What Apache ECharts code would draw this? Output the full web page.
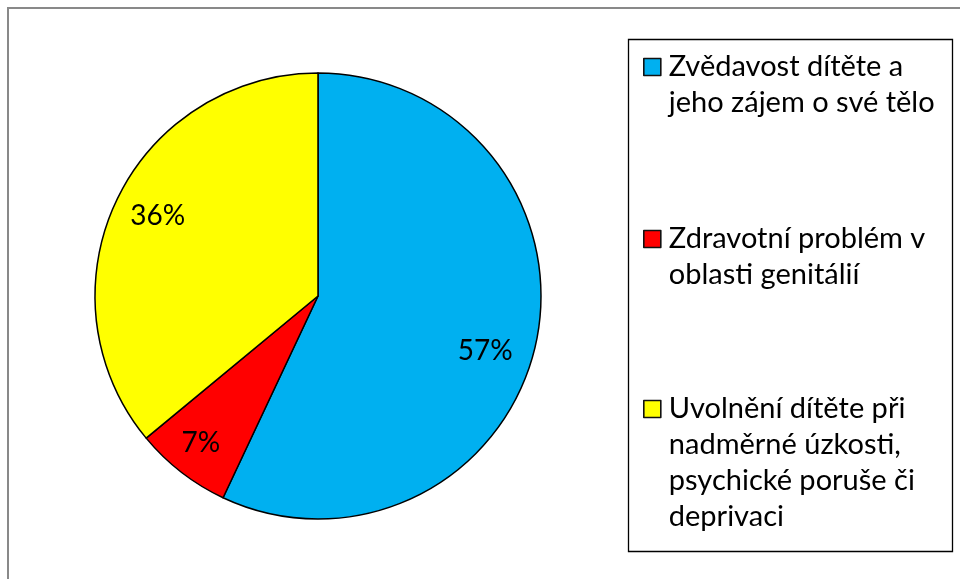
<!DOCTYPE html>
<html><head><meta charset="utf-8">
<script src="https://cdn.jsdelivr.net/npm/echarts@6/dist/echarts.min.js"></script>
<style>html,body{margin:0;padding:0;background:#fff}#c{width:960px;height:579px}</style>
</head><body><div id="c"></div>
<script>
const categories = ['Zvědavost dítěte a jeho zájem o své tělo', 'Zdravotní problém v oblasti genitálií', 'Uvolnění dítěte při nadměrné úzkosti, psychické poruše či deprivaci'];
const values = [57, 7, 36];
const legendLines = [
  ['Zvědavost dítěte a', 'jeho zájem o své tělo'],
  ['Zdravotní problém v', 'oblasti genitálií'],
  ['Uvolnění dítěte při', 'nadměrné úzkosti,', 'psychické poruše či', 'deprivaci']
];
const colors = ['#00B0F0', '#FF0000', '#FFFF00'];

const FONT = 'Lato';
const LH = 36;
const firstLineCenters = [67, 239, 409];
const labelNudge = [[-10, 15], [-6, 4], [4, -3]];

const chart = echarts.init(document.getElementById('c'), null, {renderer: 'canvas'});
const pieData = categories.map((n, i) => ({name: n, value: values[i], itemStyle: {color: colors[i]}}));
const labelData = values.map(v => ({value: v}));

const legends = categories.map((n, i) => {
  const k = legendLines[i].length - 1;
  return {
    data: [n], orient: 'vertical', left: 643, top: firstLineCenters[i] - LH / 2 - k * LH, padding: 0,
    itemWidth: 17, itemHeight: 17, icon: 'rect', selectedMode: false,
    formatter: () => '\n'.repeat(k) + legendLines[i].join('\n'),
    textStyle: {fontFamily: FONT, fontSize: 29, color: '#000', lineHeight: LH, padding: [0, 0, 0, 3]},
    itemStyle: {borderColor: '#111', borderWidth: 1.6}
  };
});

chart.setOption({
  animation: false,
  backgroundColor: '#fff',
  legend: legends,
  graphic: [
    {type: 'rect', silent: true, z: -1, shape: {x: 8, y: 8, width: 1000, height: 1000}, style: {fill: 'none', stroke: '#898989', lineWidth: 2}},
    {type: 'rect', silent: true, z: -1, shape: {x: 628.5, y: 39.5, width: 324, height: 512}, style: {fill: 'none', stroke: '#000', lineWidth: 1.3}}
  ],
  series: [
    {
      type: 'pie', center: [318, 296], radius: [0, 223], startAngle: 90, clockwise: true,
      silent: true, emphasis: {disabled: true},
      data: pieData,
      label: {show: false}, labelLine: {show: false},
      itemStyle: {borderColor: '#000', borderWidth: 1.5}
    },
    {
      type: 'pie', center: [318, 296], radius: [134, 223], startAngle: 90, clockwise: true,
      silent: true, emphasis: {disabled: true},
      data: labelData,
      itemStyle: {color: 'rgba(0,0,0,0)', borderWidth: 0},
      label: {show: true, position: 'inside', formatter: '{c}%', fontFamily: FONT, fontSize: 28, color: '#000'},
      labelLine: {show: false},
      labelLayout: p => ({dx: labelNudge[p.dataIndex][0], dy: labelNudge[p.dataIndex][1]})
    }
  ]
});
</script></body></html>
